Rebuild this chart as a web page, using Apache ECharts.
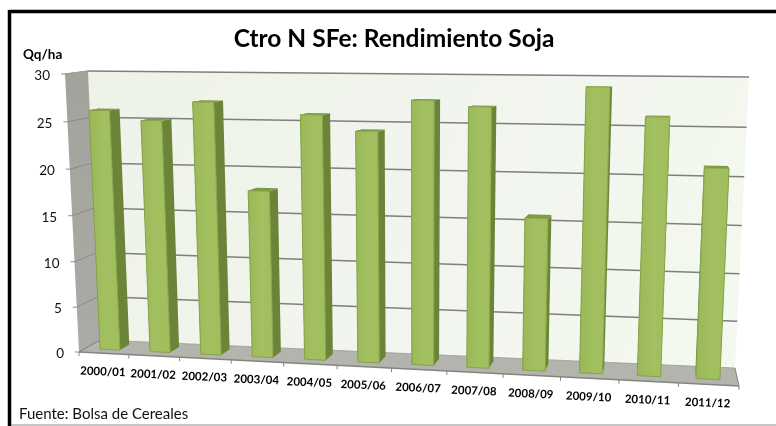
<!DOCTYPE html>
<html><head><meta charset="utf-8">
<style>html,body{margin:0;padding:0;background:#fff}#c{width:776px;height:426px}</style>
<script src="https://cdn.jsdelivr.net/npm/echarts@6/dist/echarts.min.js"></script>
</head><body><div id="c"></div>
<script>
const categories = ['2000/01','2001/02','2002/03','2003/04','2004/05','2005/06','2006/07','2007/08','2008/09','2009/10','2010/11','2011/12'];
const yields = [26.1,25.1,27.1,17.9,25.9,24.3,27.5,26.9,15.8,28.95,26.1,21.2];
const yTicks = [0,5,10,15,20,25,30];

// Perspective frame of the 3D box (screen corners), used to warp the cartesian grid
const front = [[79,352],[739,386],[753,77],[65,74]];
const back  = [[100,340],[735,368],[749,77],[88,71]];
function homography(q){
  const [[x0,y0],[x1,y1],[x2,y2],[x3,y3]] = q;
  const dx1=x1-x2,dx2=x3-x2,sx=x0-x1+x2-x3,dy1=y1-y2,dy2=y3-y2,sy=y0-y1+y2-y3;
  const den=dx1*dy2-dx2*dy1, g=(sx*dy2-dx2*sy)/den, h=(dx1*sy-sx*dy1)/den;
  const a=x1-x0+g*x1,b=x3-x0+h*x3,d=y1-y0+g*y1,e=y3-y0+h*y3;
  return (u,t)=>{const w=g*u+h*t+1;return [(a*u+b*t+x0)/w,(d*u+e*t+y0)/w];};
}
const HF=homography(front), HB=homography(back);
function warp(u,t,d){const f=HF(u,t),b=HB(u,t);return [f[0]+(b[0]-f[0])*d,f[1]+(b[1]-f[1])*d];}
function norm(api,params,cat,val){
  const cs=params.coordSys, p=api.coord([cat,val]);
  return [(p[0]-cs.x)/cs.width,1-(p[1]-cs.y)/cs.height];
}
const poly=(pts,style)=>({type:'polygon',shape:{points:pts},style});
const line=(a,b,stroke,lw)=>({type:'line',shape:{x1:a[0],y1:a[1],x2:b[0],y2:b[1]},style:{stroke,lineWidth:lw}});
const G=(x0,y0,x1,y1,c)=>new echarts.graphic.LinearGradient(x0,y0,x1,y1,c.map((k,i)=>({offset:i/(c.length-1),color:k})));

const BAR_HALF=0.2, D0=0.3, D1=0.75;

const option={
  animation:false,
  title:[
    {text:'Ctro N SFe: Rendimiento Soja',left:394,top:27,padding:0,textAlign:'center',
     textStyle:{fontFamily:'Lato',fontWeight:'bold',fontSize:24.5,color:'#000'}},
    {text:'Qq/ha',left:23,top:48,padding:0,textStyle:{fontFamily:'Lato',fontWeight:'bold',fontSize:13.5,color:'#000'}},
    {text:'Fuente: Bolsa de Cereales',left:19,top:407,padding:0,textStyle:{fontFamily:'Lato',fontWeight:'normal',fontSize:15,color:'#111'}}
  ],
  grid:{left:100,right:100,top:70,bottom:70},
  xAxis:{type:'category',data:categories,show:false},
  yAxis:{type:'value',min:0,max:30,interval:5,show:false},
  graphic:[
    {type:'line',shape:{x1:9,y1:11.5,x2:776,y2:11.5},style:{stroke:'#000',lineWidth:3.5}},
    {type:'line',shape:{x1:9.5,y1:10,x2:9.5,y2:426},style:{stroke:'#000',lineWidth:3.5}},
    {type:'line',shape:{x1:11,y1:425,x2:776,y2:425},style:{stroke:'#8c8c8c',lineWidth:1.2}}
  ],
  series:[
    {type:'custom',z:1,silent:true,data:[0],renderItem:()=>{
      const c=[];
      c.push(poly([warp(0,0,1),warp(1,0,1),warp(1,1,1),warp(0,1,1)],{fill:G(0,0,1,1,['#EEF3E8','#F1F5EE','#F4F9EF'])}));
      c.push(poly([warp(0,0,0),warp(0,0,1),warp(0,1,1),warp(0,1,0)],{fill:G(0,0,0,1,['#A3A39D','#ABABA6'])}));
      c.push(poly([warp(0,0,0),warp(1,0,0),warp(1,0,1),warp(0,0,1)],{fill:'#B3B4AD'}));
      return {type:'group',children:c};
    }},
    {type:'custom',z:2,silent:true,data:yTicks,encode:{y:0},renderItem:(params,api)=>{
      const t=norm(api,params,0,api.value(0))[1];
      const a=warp(0,t,0), b=warp(0,t,1), e=warp(1,t,1), tick=[a[0]-4,a[1]];
      const kids=[];
      if(t>0){kids.push(line(b,e,'#7f7f7b',1.5));}
      kids.push(line(a,b,'#8a8a86',1));
      kids.push(line(a,tick,'#8a8a86',1));
      kids.push({type:'text',x:a[0]-15,y:a[1]+1.5,style:{text:String(api.value(0)),align:'right',verticalAlign:'middle',
        fontFamily:'Lato',fontSize:13.5,fill:'#111'}});
      return {type:'group',children:kids};
    }},
    {type:'custom',z:2,silent:true,data:[0],renderItem:()=>({type:'group',children:[
      line(warp(0,0,0),warp(1,0,0),'#85857f',1.6),
      line(warp(1,0,0),warp(1,0,1),'#85857f',1),
      line(warp(0,0,1),warp(1,0,1),'#9a9a94',0.8),
      line(warp(0,0,0),warp(0,0,1),'#85857f',1),
      line(warp(0,1,0),warp(0,1,1),'#a0a09a',1.2)
    ]})},
    {type:'custom',z:2,silent:true,data:categories.map((_,i)=>i).concat([categories.length]),renderItem:(params,api)=>{
      const i=params.dataIndex, u=i/categories.length, a=warp(u,0,0);
      return line(a,[a[0],a[1]+4],'#85857f',1);
    }},
    {type:'custom',z:4,silent:true,data:yields.map((v,i)=>[i,v]),encode:{x:0,y:1},renderItem:(params,api)=>{
      const i=api.value(0), v=api.value(1);
      const n0=norm(api,params,i,0), n1=norm(api,params,i,v);
      const bw=api.size([1,0])[0]/params.coordSys.width;
      const ul=n0[0]-bw*BAR_HALF, ur=n0[0]+bw*BAR_HALF, t0=n0[1], t1=n1[1];
      const fbl=warp(ul,t0,D0),fbr=warp(ur,t0,D0),ftr=warp(ur,t1,D0),ftl=warp(ul,t1,D0);
      const bbl=warp(ul,t0,D1),bbr=warp(ur,t0,D1),btr=warp(ur,t1,D1),btl=warp(ul,t1,D1);
      return {type:'group',children:[
        poly([fbl,bbl,btl,ftl],{fill:'#6B8437'}),
        poly([fbr,bbr,btr,ftr],{fill:'#6B8437'}),
        poly([ftl,ftr,btr,btl],{fill:'#7F9B46'}),
        poly([fbl,fbr,ftr,ftl],{fill:G(0,0,1,0,['#99B858','#A2C05F','#A0BE5D']),stroke:'#86A34A',lineWidth:1})
      ]};
    }},
    {type:'custom',z:5,silent:true,data:categories.map((_,i)=>i),encode:{x:0},renderItem:(params,api)=>{
      const i=api.value(0), n=norm(api,params,i,0);
      const a=warp(n[0],0,0);
      return {type:'text',x:a[0]-1,y:a[1]+18.5,rotation:-0.04,style:{text:categories[i],align:'center',verticalAlign:'middle',
        fontFamily:'Lato',fontWeight:'bold',fontSize:11.5,fill:'#000'}};
    }}
  ]
};
const chart=echarts.init(document.getElementById('c'),null,{renderer:'canvas'});
chart.setOption(option);
</script></body></html>
